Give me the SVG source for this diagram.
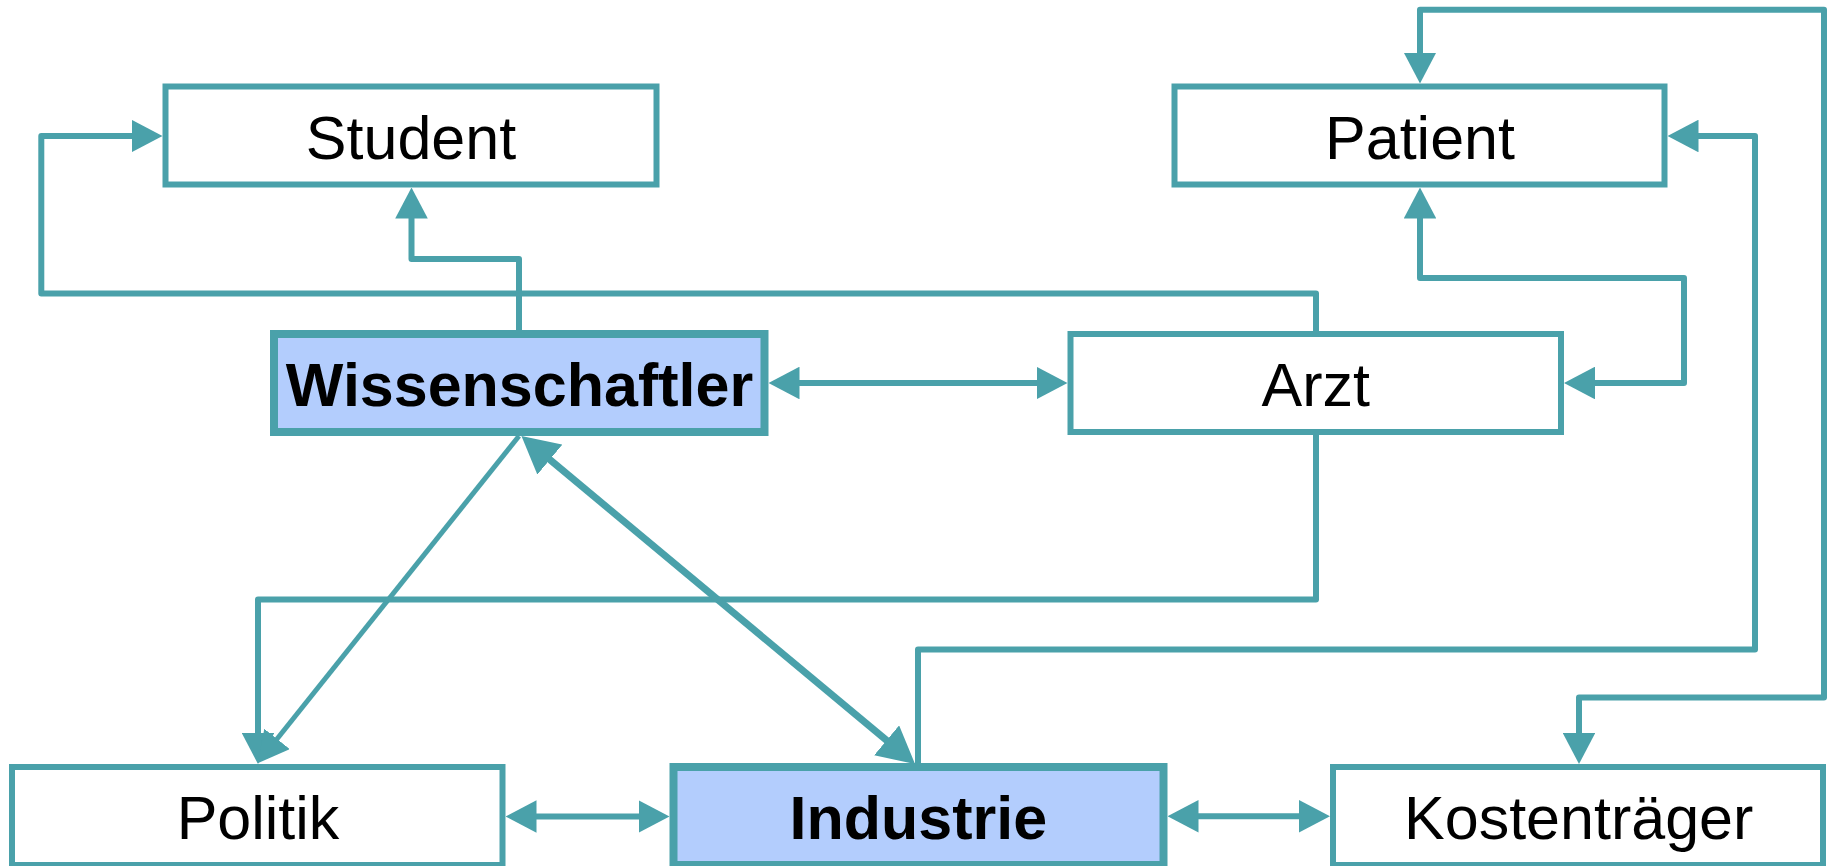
<svg xmlns="http://www.w3.org/2000/svg" width="1831" height="866" viewBox="0 0 1831 866">
  <defs>
    <style>
      .box { fill: #ffffff; stroke: #4aa1aa; stroke-width: 6; }
      .key { fill: #b3cdfd; stroke: #4aa1aa; stroke-width: 8; }
      .lbl { font-family: "Liberation Sans", Arial, sans-serif; font-size: 61px; fill: #000000; text-anchor: middle; }
      .bold { font-weight: bold; }
      .wire { fill: none; stroke: #4aa1aa; stroke-width: 6; stroke-linejoin: round; }
      .thin { stroke-width: 5; }
      .thick { stroke-width: 7; }
    </style>
    <!-- base of the head sits at the path end, tip points 30px beyond -->
    <marker id="ah" viewBox="0 0 31 32.6" refX="1" refY="16.3" markerWidth="31" markerHeight="32.6" markerUnits="userSpaceOnUse" orient="auto-start-reverse">
      <path d="M0,0 L31,16.3 L0,32.6 z" fill="#4aa1aa"/>
    </marker>
    <marker id="ah-lg" viewBox="0 0 37 39" refX="1" refY="19.5" markerWidth="37" markerHeight="39" markerUnits="userSpaceOnUse" orient="auto-start-reverse">
      <path d="M0,0 L37,19.5 L0,39 z" fill="#4aa1aa"/>
    </marker>
  </defs>

  <g id="connectors">
    <!-- Arzt to Student, routed over the top and down the left margin -->
    <path class="wire" d="M1316,331 V293.5 H41.3 V136 H132.5" marker-end="url(#ah)"/>
    <!-- Wissenschaftler to Student -->
    <path class="wire" d="M519,330 V259 H411.5 V217.5" marker-end="url(#ah)"/>
    <!-- Wissenschaftler and Arzt -->
    <path class="wire" d="M798.5,383 H1037.5" marker-start="url(#ah)" marker-end="url(#ah)"/>
    <!-- Patient and Arzt -->
    <path class="wire" d="M1420,217.5 V278 H1684 V383 H1594" marker-start="url(#ah)" marker-end="url(#ah)"/>
    <!-- Patient and Kostenträger, around the right edge -->
    <path class="wire" d="M1420,53.5 V9.7 H1824 V697.5 H1579 V734" marker-start="url(#ah)" marker-end="url(#ah)"/>
    <!-- Industrie to Patient -->
    <path class="wire" d="M918,763 V649.5 H1755 V136 H1697.5" marker-end="url(#ah)"/>
    <!-- Arzt to Politik -->
    <path class="wire" d="M1316,435 V599.5 H258 V734" marker-end="url(#ah)"/>
    <!-- Wissenschaftler to Politik -->
    <path class="wire thin" d="M519,436 L276.4,739.7" marker-end="url(#ah)"/>
    <!-- Wissenschaftler and Industrie -->
    <path class="wire thick" d="M549.1,459 L887.4,741" marker-start="url(#ah-lg)" marker-end="url(#ah-lg)"/>
    <!-- Politik and Industrie -->
    <path class="wire" d="M535.5,816.5 H639.5" marker-start="url(#ah)" marker-end="url(#ah)"/>
    <!-- Industrie and Kostenträger -->
    <path class="wire" d="M1197.5,816.3 H1300" marker-start="url(#ah)" marker-end="url(#ah)"/>
  </g>

  <g id="student">
    <rect class="box" x="165.5" y="86.5" width="491" height="98"/>
    <text class="lbl" x="411" y="159">Student</text>
  </g>
  <g id="patient">
    <rect class="box" x="1174.5" y="86.5" width="490" height="98"/>
    <text class="lbl" x="1420" y="159">Patient</text>
  </g>
  <g id="wissenschaftler">
    <rect class="key" x="274" y="334" width="490.5" height="98"/>
    <text class="lbl bold" x="519.5" y="405.7">Wissenschaftler</text>
  </g>
  <g id="arzt">
    <rect class="box" x="1070.5" y="334" width="490.5" height="98"/>
    <text class="lbl" x="1315.7" y="405.7">Arzt</text>
  </g>
  <g id="politik">
    <rect class="box" x="12" y="767" width="490.5" height="98"/>
    <text class="lbl" x="258" y="838.5">Politik</text>
  </g>
  <g id="industrie">
    <rect class="key" x="673.5" y="767" width="490" height="98"/>
    <text class="lbl bold" x="918.3" y="838.8">Industrie</text>
  </g>
  <g id="kostentraeger">
    <rect class="box" x="1333" y="767" width="490" height="98"/>
    <text class="lbl" x="1578.7" y="838.5">Kostenträger</text>
  </g>
</svg>
